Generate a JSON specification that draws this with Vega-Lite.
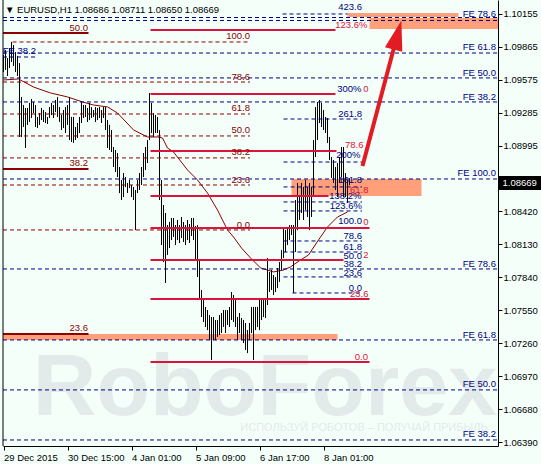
{
"$schema": "https://vega.github.io/schema/vega-lite/v6.json",
"width": 495, "height": 446,
"autosize": "none",
"padding": {"left": 3, "top": 0, "right": 43, "bottom": 18},
"background": "#f5fffa",
"config": {"view": {"stroke": null}, "font": "Liberation Sans", "text": {"font": "Liberation Sans"}},
"title": {"text": "▼ EURUSD,H1  1.08686 1.08711 1.08650 1.08669", "anchor": "start", "frame": "group", "offset": -15, "dx": 2, "fontSize": 9.5, "fontWeight": "normal", "color": "black", "font": "Liberation Sans"},
"datasets": {
"bars": [
{"i":0,"p":1.09645,"p2":1.09795},{"i":1,"p":1.09663,"p2":1.09839},{"i":2,"p":1.09610,"p2":1.09768},{"i":3,"p":1.09680,"p2":1.09856},{"i":4,"p":1.09733,"p2":1.09909},{"i":5,"p":1.09698,"p2":1.09882},{"i":6,"p":1.09645,"p2":1.09821},{"i":7,"p":1.09610,"p2":1.09786},{"i":8,"p":1.09074,"p2":1.09724},{"i":9,"p":1.09074,"p2":1.09425},
{"i":10,"p":1.09162,"p2":1.09355},{"i":11,"p":1.08977,"p2":1.09329},{"i":12,"p":1.09180,"p2":1.09329},{"i":13,"p":1.09206,"p2":1.09373},{"i":14,"p":1.09241,"p2":1.09408},{"i":15,"p":1.09285,"p2":1.09381},{"i":16,"p":1.09162,"p2":1.09355},{"i":17,"p":1.09153,"p2":1.09250},{"i":18,"p":1.09180,"p2":1.09285},{"i":19,"p":1.09223,"p2":1.09329},
{"i":20,"p":1.09206,"p2":1.09311},{"i":21,"p":1.09197,"p2":1.09293},{"i":22,"p":1.09188,"p2":1.09250},{"i":23,"p":1.09241,"p2":1.09337},{"i":24,"p":1.09267,"p2":1.09373},{"i":25,"p":1.09241,"p2":1.09355},{"i":26,"p":1.09293,"p2":1.09399},{"i":27,"p":1.09250,"p2":1.09425},{"i":28,"p":1.09206,"p2":1.09337},{"i":29,"p":1.09135,"p2":1.09267},
{"i":30,"p":1.09153,"p2":1.09311},{"i":31,"p":1.09109,"p2":1.09337},{"i":32,"p":1.09180,"p2":1.09355},{"i":33,"p":1.09047,"p2":1.09425},{"i":34,"p":1.09030,"p2":1.09250},{"i":35,"p":1.09021,"p2":1.09250},{"i":36,"p":1.09047,"p2":1.09162},{"i":37,"p":1.09065,"p2":1.09197},{"i":38,"p":1.09109,"p2":1.09250},{"i":39,"p":1.09197,"p2":1.09381},
{"i":40,"p":1.09241,"p2":1.09355},{"i":41,"p":1.09250,"p2":1.09355},{"i":42,"p":1.09206,"p2":1.09329},{"i":43,"p":1.09223,"p2":1.09373},{"i":44,"p":1.09241,"p2":1.09337},{"i":45,"p":1.09250,"p2":1.09311},{"i":46,"p":1.09206,"p2":1.09337},{"i":47,"p":1.09223,"p2":1.09329},{"i":48,"p":1.09241,"p2":1.09337},{"i":49,"p":1.09197,"p2":1.09311},
{"i":50,"p":1.09241,"p2":1.09337},{"i":51,"p":1.09135,"p2":1.09337},{"i":52,"p":1.08977,"p2":1.09223},{"i":53,"p":1.08960,"p2":1.09180},{"i":54,"p":1.08942,"p2":1.09135},{"i":55,"p":1.08810,"p2":1.08986},{"i":56,"p":1.08766,"p2":1.08960},{"i":57,"p":1.08722,"p2":1.08933},{"i":58,"p":1.08581,"p2":1.08810},{"i":59,"p":1.08520,"p2":1.08696},
{"i":60,"p":1.08546,"p2":1.08757},{"i":61,"p":1.08634,"p2":1.08722},{"i":62,"p":1.08581,"p2":1.08670},{"i":63,"p":1.08625,"p2":1.08696},{"i":64,"p":1.08546,"p2":1.08652},{"i":65,"p":1.08520,"p2":1.08634},{"i":66,"p":1.08256,"p2":1.08608},{"i":67,"p":1.08581,"p2":1.08696},{"i":68,"p":1.08608,"p2":1.08757},{"i":69,"p":1.08652,"p2":1.08810},
{"i":70,"p":1.08722,"p2":1.08933},{"i":71,"p":1.08784,"p2":1.08986},{"i":72,"p":1.08845,"p2":1.09047},{"i":73,"p":1.09047,"p2":1.09461},{"i":74,"p":1.09109,"p2":1.09373},{"i":75,"p":1.09074,"p2":1.09285},{"i":76,"p":1.09109,"p2":1.09267},{"i":77,"p":1.09109,"p2":1.09250},{"i":78,"p":1.08520,"p2":1.09135},{"i":79,"p":1.08125,"p2":1.08696},
{"i":80,"p":1.07975,"p2":1.08476},{"i":81,"p":1.07791,"p2":1.08406},{"i":82,"p":1.08037,"p2":1.08300},{"i":83,"p":1.08098,"p2":1.08327},{"i":84,"p":1.08168,"p2":1.08362},{"i":85,"p":1.08195,"p2":1.08362},{"i":86,"p":1.08125,"p2":1.08300},{"i":87,"p":1.08168,"p2":1.08344},{"i":88,"p":1.08142,"p2":1.08300},{"i":89,"p":1.08186,"p2":1.08371},
{"i":90,"p":1.08151,"p2":1.08327},{"i":91,"p":1.08125,"p2":1.08300},{"i":92,"p":1.08168,"p2":1.08344},{"i":93,"p":1.08142,"p2":1.08309},{"i":94,"p":1.08204,"p2":1.08362},{"i":95,"p":1.08168,"p2":1.08362},{"i":96,"p":1.07993,"p2":1.08291},{"i":97,"p":1.07843,"p2":1.08300},{"i":98,"p":1.07641,"p2":1.07993},{"i":99,"p":1.07492,"p2":1.07729},
{"i":100,"p":1.07448,"p2":1.07641},{"i":101,"p":1.07404,"p2":1.07580},{"i":102,"p":1.07377,"p2":1.07553},{"i":103,"p":1.07289,"p2":1.07509},{"i":104,"p":1.07114,"p2":1.07492},{"i":105,"p":1.07289,"p2":1.07492},{"i":106,"p":1.07289,"p2":1.07465},{"i":107,"p":1.07316,"p2":1.07465},{"i":108,"p":1.07333,"p2":1.07509},{"i":109,"p":1.07351,"p2":1.07527},
{"i":110,"p":1.07404,"p2":1.07553},{"i":111,"p":1.07351,"p2":1.07553},{"i":112,"p":1.07421,"p2":1.07553},{"i":113,"p":1.07404,"p2":1.07580},{"i":114,"p":1.07465,"p2":1.07711},{"i":115,"p":1.07448,"p2":1.07685},{"i":116,"p":1.07404,"p2":1.07641},{"i":117,"p":1.07289,"p2":1.07492},{"i":118,"p":1.07351,"p2":1.07527},{"i":119,"p":1.07289,"p2":1.07483},
{"i":120,"p":1.07263,"p2":1.07465},{"i":121,"p":1.07202,"p2":1.07439},{"i":122,"p":1.07175,"p2":1.07377},{"i":123,"p":1.07289,"p2":1.07439},{"i":124,"p":1.07351,"p2":1.07580},{"i":125,"p":1.07114,"p2":1.07580},{"i":126,"p":1.07377,"p2":1.07580},{"i":127,"p":1.07404,"p2":1.07580},{"i":128,"p":1.07377,"p2":1.07659},{"i":129,"p":1.07465,"p2":1.07641},
{"i":130,"p":1.07492,"p2":1.07659},{"i":131,"p":1.07483,"p2":1.07641},{"i":132,"p":1.07597,"p2":1.08010},{"i":133,"p":1.07711,"p2":1.07887},{"i":134,"p":1.07729,"p2":1.07905},{"i":135,"p":1.07685,"p2":1.07861},{"i":136,"p":1.07711,"p2":1.07843},{"i":137,"p":1.07746,"p2":1.07922},{"i":138,"p":1.07800,"p2":1.07975},{"i":139,"p":1.07905,"p2":1.08081},
{"i":140,"p":1.08010,"p2":1.08274},{"i":141,"p":1.08063,"p2":1.08256},{"i":142,"p":1.08125,"p2":1.08283},{"i":143,"p":1.08168,"p2":1.08300},{"i":144,"p":1.08212,"p2":1.08300},{"i":145,"p":1.07703,"p2":1.08300},{"i":146,"p":1.08063,"p2":1.08520},{"i":147,"p":1.08256,"p2":1.08670},{"i":148,"p":1.08344,"p2":1.08546},{"i":149,"p":1.08406,"p2":1.08670},
{"i":150,"p":1.08344,"p2":1.08634},{"i":151,"p":1.08432,"p2":1.08696},{"i":152,"p":1.08371,"p2":1.08634},{"i":153,"p":1.08256,"p2":1.08670},{"i":154,"p":1.08371,"p2":1.08634},{"i":155,"p":1.08546,"p2":1.09047},{"i":156,"p":1.08898,"p2":1.09337},{"i":157,"p":1.09047,"p2":1.09381},{"i":158,"p":1.09197,"p2":1.09399},{"i":159,"p":1.09162,"p2":1.09373},
{"i":160,"p":1.09135,"p2":1.09311},{"i":161,"p":1.09109,"p2":1.09250},{"i":162,"p":1.09021,"p2":1.09241},{"i":163,"p":1.08872,"p2":1.09074},{"i":164,"p":1.08713,"p2":1.08898},{"i":165,"p":1.08670,"p2":1.08872},{"i":166,"p":1.08608,"p2":1.08810},{"i":167,"p":1.08546,"p2":1.08845},{"i":168,"p":1.08670,"p2":1.08898},{"i":169,"p":1.08722,"p2":1.08986},
{"i":170,"p":1.08546,"p2":1.08986},{"i":171,"p":1.08546,"p2":1.08757},{"i":172,"p":1.08494,"p2":1.08696},{"i":173,"p":1.08650,"p2":1.08711}
],
"zones": [
{"i":172,"i2":227.5,"p":1.10129,"p2":1.10164},
{"i":183,"i2":247.25,"p":1.10023,"p2":1.10120},
{"i":144,"i2":209,"p":1.08556,"p2":1.08705},
{"i":-0.25,"i2":167,"p":1.07290,"p2":1.07343}
],
"ma": [
{"i":0,"p":1.09575},{"i":7.5,"p":1.09584},{"i":15,"p":1.09513},{"i":23.5,"p":1.09461},{"i":32,"p":1.09426},{"i":39.5,"p":1.09382},{"i":45,"p":1.09355},{"i":52,"p":1.09338},{"i":57,"p":1.09285},{"i":65,"p":1.09136},{"i":72,"p":1.09074},{"i":77,"p":1.09074},{"i":79.5,"p":1.09065},{"i":82,"p":1.08977},{"i":85,"p":1.08942},{"i":92,"p":1.08784},{"i":97,"p":1.08696},{"i":102,"p":1.08581},{"i":107,"p":1.08432},{"i":112,"p":1.08257},{"i":115,"p":1.08195},{"i":119,"p":1.08098},{"i":123.5,"p":1.08011},{"i":128.5,"p":1.07923},{"i":135,"p":1.07888},{"i":140,"p":1.07905},{"i":143.5,"p":1.07932},{"i":148.5,"p":1.07993},{"i":152.5,"p":1.08037},{"i":157.5,"p":1.08169},{"i":162,"p":1.08283},{"i":167,"p":1.08371},{"i":172,"p":1.08415}
],
"navy": [
{"i":-0.25,"i2":247.25,"p":1.10124},{"i":-0.25,"i2":247.25,"p":1.10098},{"i":-0.25,"i2":247.25,"p":1.09812},{"i":-0.25,"i2":247.25,"p":1.09593},{"i":-0.25,"i2":247.25,"p":1.09382},{"i":-0.25,"i2":247.25,"p":1.08705},{"i":-0.25,"i2":247.25,"p":1.07914},{"i":-0.25,"i2":247.25,"p":1.07290},{"i":-0.25,"i2":247.25,"p":1.06851},{"i":-0.25,"i2":247.25,"p":1.06411},
{"i":139.5,"i2":172,"p":1.10155},{"i":140,"i2":179.25,"p":1.09232},{"i":140,"i2":179.25,"p":1.08854},{"i":140,"i2":179.25,"p":1.08635},{"i":140,"i2":179.25,"p":1.08503},{"i":140,"i2":179.25,"p":1.08424},{"i":140,"i2":179.25,"p":1.08160},{"i":140,"i2":179.25,"p":1.08063},{"i":140,"i2":179.25,"p":1.07844},{"i":144.5,"i2":179.25,"p":1.07703},{"i":-0.25,"i2":17,"p":1.09777}
],
"maroonDash": [
{"i":4.5,"i2":123.25,"p":1.09909},{"i":-0.25,"i2":123.25,"p":1.09557},{"i":-0.25,"i2":123.25,"p":1.09276},{"i":-0.25,"i2":123.25,"p":1.09083},{"i":-0.25,"i2":123.25,"p":1.08890},{"i":-0.25,"i2":123.25,"p":1.08652},{"i":-0.25,"i2":123.25,"p":1.08257}
],
"maroonSolid": [
{"i":-0.25,"i2":42.5,"p":1.09988},{"i":-0.25,"i2":42.5,"p":1.08793},{"i":-0.25,"i2":42.5,"p":1.07343}
],
"crimson": [
{"i":73.5,"i2":166,"p":1.10014},{"i":73.5,"i2":166,"p":1.09452},{"i":73.5,"i2":166.5,"p":1.08951},{"i":73.5,"i2":162.5,"p":1.08556},{"i":73.5,"i2":183,"p":1.08274},{"i":73.5,"i2":170,"p":1.07993},{"i":73.5,"i2":183,"p":1.07650},{"i":73.5,"i2":183,"p":1.07097}
],
"lblCrimson": [
{"i":182,"p":1.10058,"t":"123.6%"},{"i":182.5,"p":1.09496,"t":"0"},{"i":180,"p":1.09004,"t":"78.6"},{"i":182.5,"p":1.08608,"t":"61.8"},{"i":182.5,"p":1.08327,"t":"0"},{"i":182.5,"p":1.08037,"t":"2"},{"i":182.5,"p":1.07694,"t":"23.6"},{"i":182.25,"p":1.07141,"t":"0.0"}
],
"lblMaroon": [
{"i":123.25,"p":1.09962,"t":"100.0"},{"i":123.25,"p":1.09601,"t":"78.6"},{"i":123.25,"p":1.09329,"t":"61.8"},{"i":123.25,"p":1.09136,"t":"50.0"},{"i":123.25,"p":1.08942,"t":"38.2"},{"i":123.25,"p":1.08696,"t":"23.6"},{"i":123.25,"p":1.08301,"t":"0.0"},{"i":42.25,"p":1.10032,"t":"50.0"},{"i":42.25,"p":1.08846,"t":"38.2"},{"i":42.25,"p":1.07396,"t":"23.6"}
],
"lblNavy": [
{"i":179.25,"p":1.10216,"t":"423.6"},{"i":179,"p":1.09496,"t":"300%"},{"i":179.25,"p":1.09276,"t":"261.8"},{"i":178.5,"p":1.08916,"t":"200%"},{"i":179.25,"p":1.08696,"t":"161.8"},{"i":179,"p":1.08556,"t":"138.2%"},{"i":179.25,"p":1.08468,"t":"123.6%"},{"i":179.25,"p":1.08336,"t":"100.0"},{"i":179.25,"p":1.08204,"t":"78.6"},{"i":179.25,"p":1.08107,"t":"61.8"},{"i":179.25,"p":1.08028,"t":"50.0"},{"i":179.25,"p":1.07958,"t":"38.2"},{"i":179.25,"p":1.07879,"t":"23.6"},{"i":179.25,"p":1.07747,"t":"0.0"},
{"i":246.25,"p":1.10155,"t":"FE 78.6"},{"i":246.25,"p":1.09865,"t":"FE 61.8"},{"i":246.25,"p":1.09637,"t":"FE 50.0"},{"i":246.25,"p":1.09426,"t":"FE 38.2"},{"i":246.25,"p":1.08758,"t":"FE 100.0"},{"i":246.25,"p":1.07958,"t":"FE 78.6"},{"i":246.25,"p":1.07334,"t":"FE 61.8"},{"i":246.25,"p":1.06903,"t":"FE 50.0"},{"i":246.25,"p":1.06464,"t":"FE 38.2"},{"i":16.25,"p":1.09830,"t":"FE 38.2"}
],
"wmBig": [{"i":130.75,"p":1.06630,"t":"RoboForex"}],
"wmSmall": [{"i":180.25,"p":1.06516,"t":"ИСПОЛЬЗУЙ РОБОТОВ – ПОЛУЧАЙ ПРИБЫЛЬ"}],
"arrow": [{"i":179.5,"p":1.08819,"i2":195.6,"p2":1.09883}],
"arrowHead": [{"i":197,"p":1.09970}],
"border": [{"i":-0.25,"p":1.06358,"p2":1.10278}],
"priceBox": [{"i":247.25,"i2":268.75,"p":1.08608,"p2":1.08731}],
"priceText": [{"i":249.5,"p":1.08669,"t":"1.08669"}]
},
"encoding": {
"x": {"field": "i", "type": "quantitative", "scale": {"domain": [-0.25, 247.25], "nice": false, "zero": false},
 "axis": {"values": [0, 32, 64, 96, 128, 160], "labelExpr": "datum.value == 0 ? '29 Dec 2015' : datum.value == 32 ? '30 Dec 15:00' : datum.value == 64 ? '4 Jan 01:00' : datum.value == 96 ? '5 Jan 09:00' : datum.value == 128 ? '6 Jan 17:00' : '8 Jan 01:00'", "labelAlign": "left", "labelBaseline": "top", "labelFontSize": 9.5, "labelFont": "Liberation Sans", "labelColor": "black", "domainColor": "black", "tickColor": "black", "tickSize": 4, "labelPadding": 2, "grid": false, "title": null, "labelFlush": false, "labelOverlap": false}},
"y": {"field": "p", "type": "quantitative", "scale": {"domain": [1.06358, 1.10278], "nice": false, "zero": false},
 "axis": {"orient": "right", "values": [1.10155, 1.09865, 1.09575, 1.09285, 1.08995, 1.0871, 1.0842, 1.0813, 1.0784, 1.0755, 1.0726, 1.0697, 1.0668, 1.0639], "format": ".5f", "labelFontSize": 9.5, "labelFont": "Liberation Sans", "labelColor": "black", "domainColor": "black", "tickColor": "black", "tickSize": 4, "labelPadding": 1, "grid": false, "title": null, "labelFlush": false, "labelOverlap": false}}
},
"layer": [
{"data": {"name": "wmBig"}, "mark": {"type": "text", "fontSize": 88, "fontWeight": "bold", "color": "#e2eaea", "align": "center", "baseline": "alphabetic", "font": "Liberation Sans"}, "encoding": {"text": {"field": "t"}}},
{"data": {"name": "wmSmall"}, "mark": {"type": "text", "fontSize": 11, "color": "#e2eaea", "align": "center", "baseline": "middle", "font": "Liberation Sans"}, "encoding": {"text": {"field": "t"}}},
{"data": {"name": "zones"}, "mark": {"type": "rect", "color": "#ffa07a", "opacity": 1}, "encoding": {"x2": {"field": "i2"}, "y2": {"field": "p2"}}},
{"data": {"name": "ma"}, "mark": {"type": "line", "color": "#8b0000", "strokeWidth": 1}, "encoding": {}},
{"data": {"name": "bars"}, "mark": {"type": "rule", "color": "black", "strokeWidth": 1}, "encoding": {"y2": {"field": "p2"}}},
{"data": {"name": "navy"}, "mark": {"type": "rule", "color": "#000080", "strokeWidth": 1, "strokeDash": [4, 3]}, "encoding": {"x2": {"field": "i2"}}},
{"data": {"name": "maroonDash"}, "mark": {"type": "rule", "color": "#8b0000", "strokeWidth": 1, "strokeDash": [4, 3]}, "encoding": {"x2": {"field": "i2"}}},
{"data": {"name": "maroonSolid"}, "mark": {"type": "rule", "color": "#8b0000", "strokeWidth": 2}, "encoding": {"x2": {"field": "i2"}}},
{"data": {"name": "crimson"}, "mark": {"type": "rule", "color": "#dc143c", "strokeWidth": 2}, "encoding": {"x2": {"field": "i2"}}},
{"data": {"name": "lblCrimson"}, "mark": {"type": "text", "color": "#dc143c", "fontSize": 9.5, "align": "right", "baseline": "middle"}, "encoding": {"text": {"field": "t"}}},
{"data": {"name": "lblMaroon"}, "mark": {"type": "text", "color": "#8b0000", "fontSize": 9.5, "align": "right", "baseline": "middle"}, "encoding": {"text": {"field": "t"}}},
{"data": {"name": "lblNavy"}, "mark": {"type": "text", "color": "#000080", "fontSize": 9.5, "align": "right", "baseline": "middle"}, "encoding": {"text": {"field": "t"}}},
{"data": {"name": "arrow"}, "mark": {"type": "rule", "color": "#e31b23", "strokeWidth": 4}, "encoding": {"x2": {"field": "i2"}, "y2": {"field": "p2"}}},
{"data": {"name": "arrowHead"}, "mark": {"type": "point", "shape": "M0,-1L0.6,1L-0.6,1Z", "size": 900, "angle": 15, "filled": true, "color": "#e31b23", "opacity": 1}, "encoding": {}},
{"data": {"name": "border"}, "mark": {"type": "rule", "color": "black", "strokeWidth": 1}, "encoding": {"y2": {"field": "p2"}}},
{"data": {"name": "priceBox"}, "mark": {"type": "rect", "color": "black", "opacity": 1}, "encoding": {"x2": {"field": "i2"}, "y2": {"field": "p2"}}},
{"data": {"name": "priceText"}, "mark": {"type": "text", "color": "white", "fontSize": 9.5, "align": "left", "baseline": "middle"}, "encoding": {"text": {"field": "t"}}}
]
}
